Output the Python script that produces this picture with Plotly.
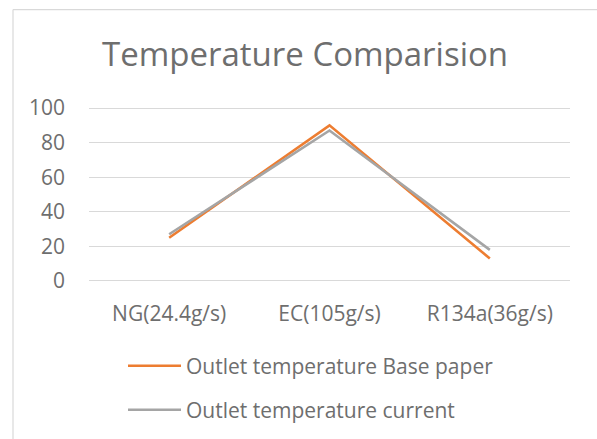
import plotly.graph_objects as go

# Chart data
categories = ["NG(24.4g/s)", "EC(105g/s)", "R134a(36g/s)"]
base_paper = [25, 90, 13]
current = [27, 87, 18]
series_names = ["Outlet temperature Base paper", "Outlet temperature current"]
series_colors = ["#ED7D31", "#A5A5A5"]
y_ticks = [0, 20, 40, 60, 80, 100]
title_text = "Temperature Comparision"

W, H = 597, 439
# plot area: y=0 at row 281, y=100 at row 107.7
Y0_PX, Y100_PX = 281.0, 107.7
PAD = 0.6  # small headroom so the 0 and 100 gridlines are drawn
px_per_unit = (Y0_PX - Y100_PX) / 100.0
T = Y100_PX - PAD * px_per_unit
B = H - (Y0_PX + PAD * px_per_unit)
L, R = 89, 27
PW, PH = W - L - R, H - T - B
FONT = "Open Sans"
TXT = "#6E6E6E"


def px_x(px):
    return (px - L) / PW


def px_y(py):
    return (H - B - py) / PH


fig = go.Figure()
for name, vals, col in zip(series_names, [base_paper, current], series_colors):
    fig.add_trace(go.Scatter(
        x=categories, y=vals, mode="lines", name=name,
        line=dict(color=col, width=2.6), showlegend=False,
    ))

shapes = [
    # chart frame
    dict(type="line", xref="paper", yref="paper", x0=px_x(13), x1=px_x(13),
         y0=px_y(9), y1=px_y(H + 5), line=dict(color="#D9D9D9", width=1.2)),
    dict(type="line", xref="paper", yref="paper", x0=px_x(13), x1=px_x(W + 5),
         y0=px_y(9), y1=px_y(9), line=dict(color="#D9D9D9", width=1.2)),
]
annotations = [
    dict(text=title_text, xref="paper", yref="paper", x=px_x(305), y=px_y(53),
         xanchor="center", yanchor="middle", showarrow=False,
         font=dict(family=FONT, size=33, color=TXT)),
]

# legend drawn as line keys plus labels
for i, (name, col) in enumerate(zip(series_names, series_colors)):
    ly = 366 + 44 * i
    shapes.append(dict(type="line", xref="paper", yref="paper",
                       x0=px_x(128), x1=px_x(181), y0=px_y(ly), y1=px_y(ly),
                       line=dict(color=col, width=2.6)))
    annotations.append(dict(text=name, xref="paper", yref="paper",
                            x=px_x(184), y=px_y(ly), xanchor="left", yanchor="middle",
                            showarrow=False, font=dict(family=FONT, size=21, color=TXT)))

fig.update_layout(
    width=W, height=H,
    margin=dict(l=L, r=R, t=T, b=B, pad=0),
    paper_bgcolor="white", plot_bgcolor="white",
    shapes=shapes, annotations=annotations,
    font=dict(family=FONT, color=TXT, size=21),
)
fig.update_xaxes(
    type="category", range=[-0.5, 2.5], showgrid=False, showline=False,
    zeroline=False, ticks="", ticklabelstandoff=17,
    tickfont=dict(family=FONT, size=21, color=TXT),
)
fig.update_yaxes(
    range=[-PAD, 100 + PAD], tickvals=y_ticks, showgrid=True, gridcolor="#D9D9D9",
    gridwidth=1.3, zeroline=False, showline=False, ticks="",
    ticklabelstandoff=23, tickfont=dict(family=FONT, size=21, color=TXT),
)

fig.write_html("out.html")
